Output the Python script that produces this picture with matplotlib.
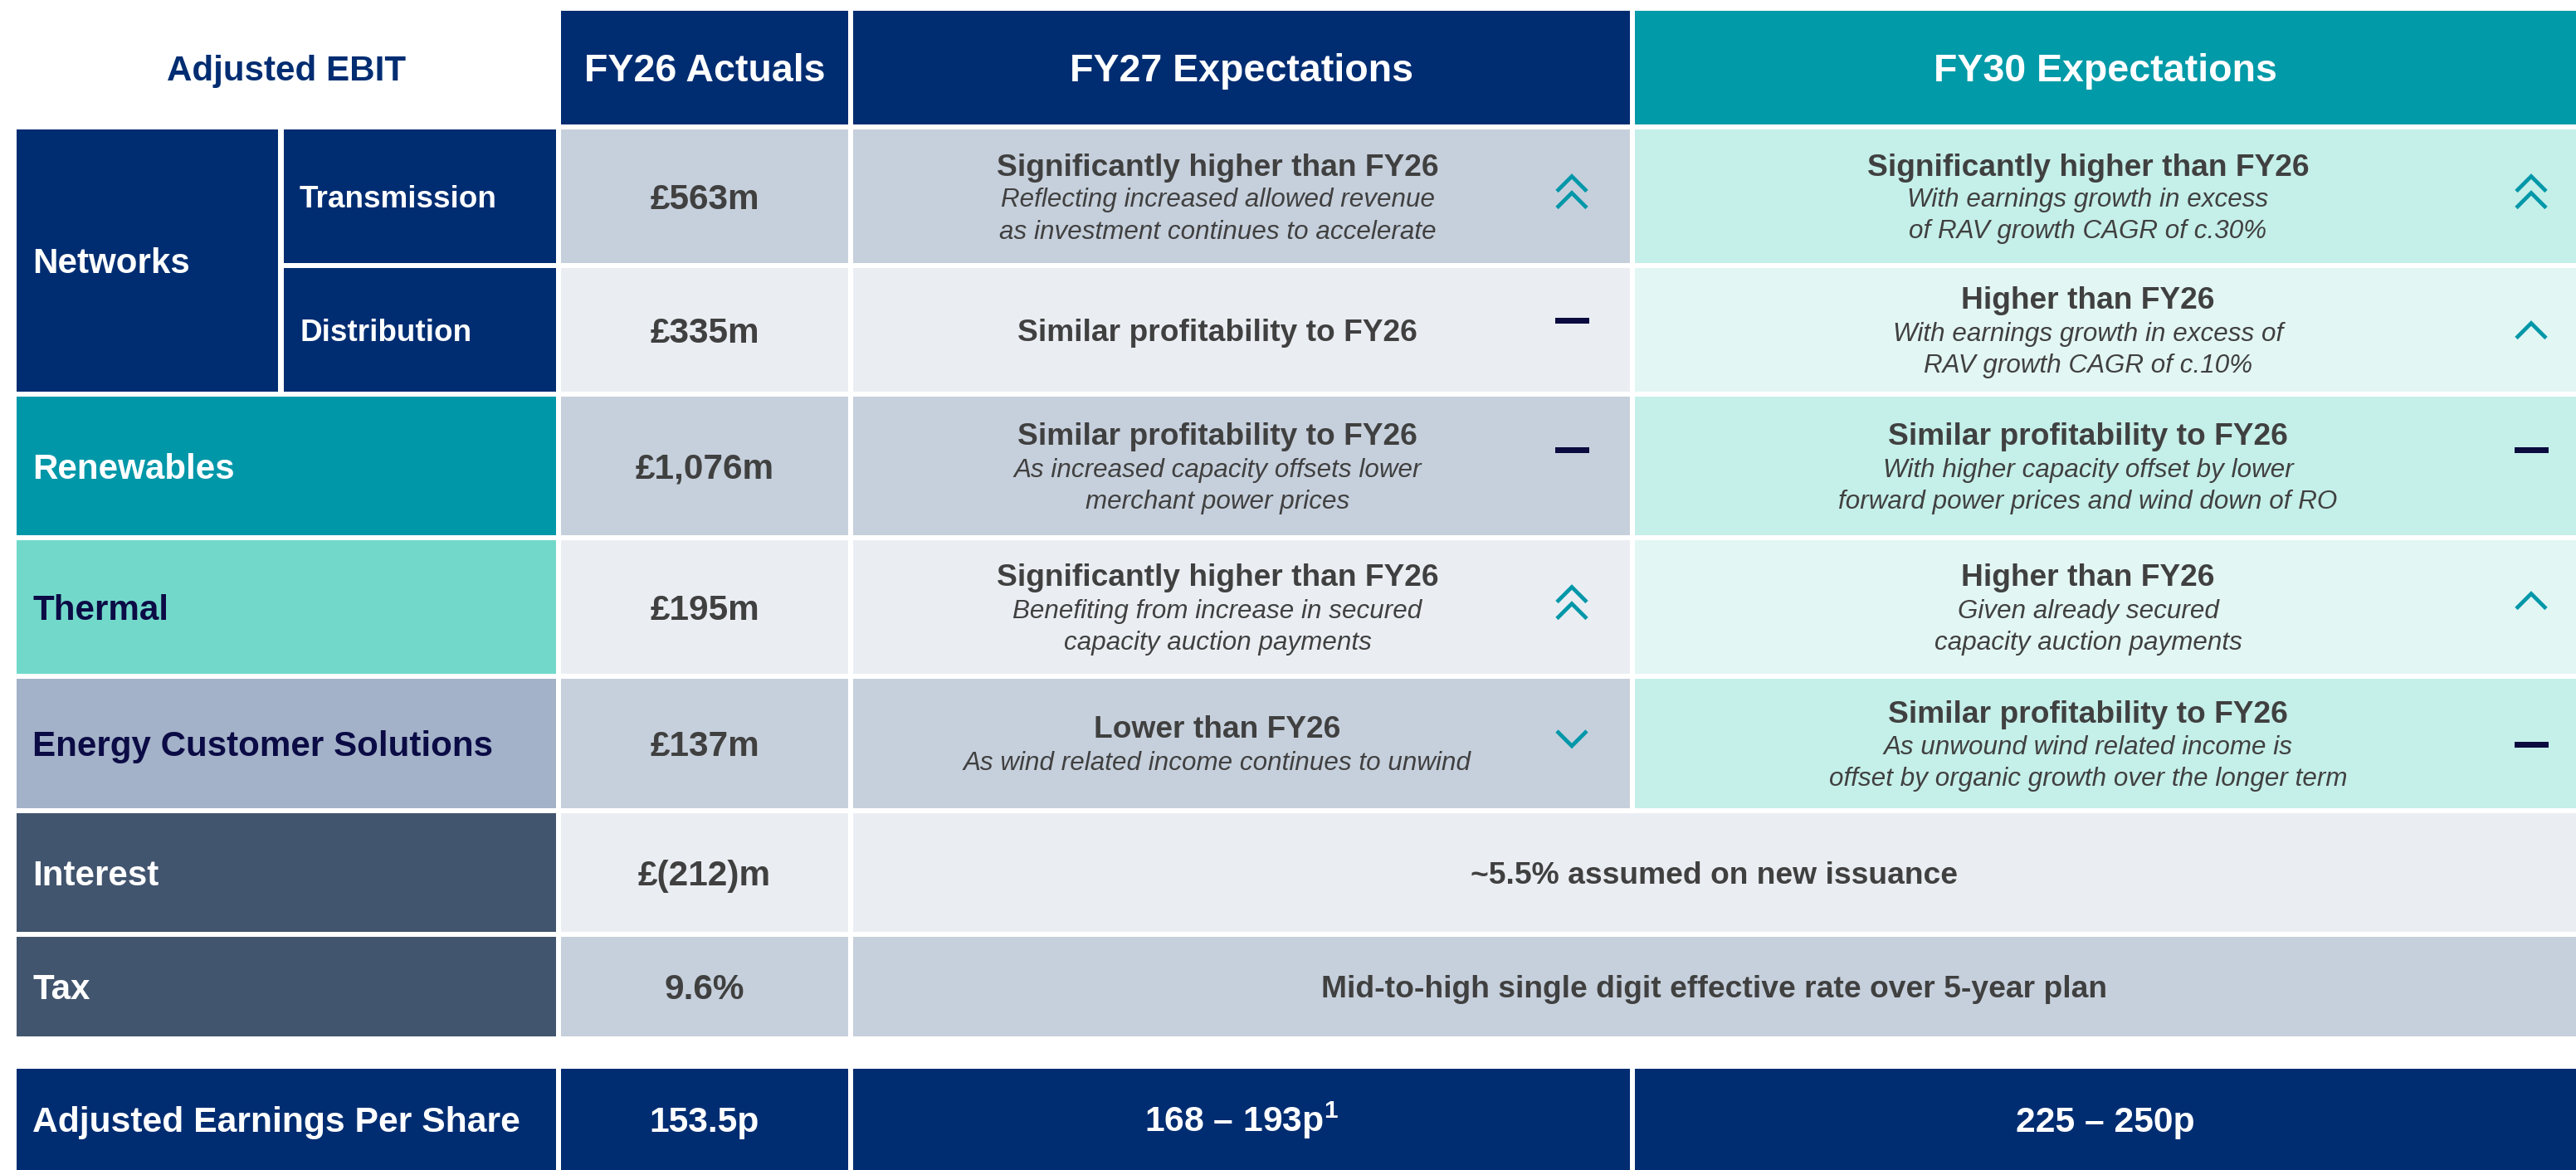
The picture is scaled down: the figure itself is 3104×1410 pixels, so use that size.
import matplotlib.pyplot as plt
from matplotlib.patches import Rectangle

plt.rcParams['font.family'] = ['Liberation Sans', 'DejaVu Sans']
plt.rcParams['mathtext.fontset'] = 'custom'
plt.rcParams['mathtext.rm'] = 'Liberation Sans:bold'
plt.rcParams['mathtext.it'] = 'Liberation Sans:bold'
plt.rcParams['mathtext.bf'] = 'Liberation Sans:bold'

# ---- table content ----
header_title = 'Adjusted EBIT'
col_heads = ['FY26 Actuals', 'FY27 Expectations', 'FY30 Expectations']

segments = ['Transmission', 'Distribution', 'Renewables', 'Thermal', 'Energy Customer Solutions']
group_label = 'Networks'
fy26_values = ['£563m', '£335m', '£1,076m', '£195m', '£137m']

fy27_head = ['Significantly higher than FY26', 'Similar profitability to FY26',
             'Similar profitability to FY26', 'Significantly higher than FY26', 'Lower than FY26']
fy27_sub = [['Reflecting increased allowed revenue', 'as investment continues to accelerate'],
            [],
            ['As increased capacity offsets lower', 'merchant power prices'],
            ['Benefiting from increase in secured', 'capacity auction payments'],
            ['As wind related income continues to unwind']]
fy27_arrow = ['up2', 'flat', 'flat', 'up2', 'down']

fy30_head = ['Significantly higher than FY26', 'Higher than FY26', 'Similar profitability to FY26',
             'Higher than FY26', 'Similar profitability to FY26']
fy30_sub = [['With earnings growth in excess', 'of RAV growth CAGR of c.30%'],
            ['With earnings growth in excess of', 'RAV growth CAGR of c.10%'],
            ['With higher capacity offset by lower', 'forward power prices and wind down of RO'],
            ['Given already secured', 'capacity auction payments'],
            ['As unwound wind related income is', 'offset by organic growth over the longer term']]
fy30_arrow = ['up2', 'up', 'flat', 'up', 'flat']

other_rows = ['Interest', 'Tax']
other_fy26 = ['£(212)m', '9.6%']
other_text = ['~5.5% assumed on new issuance', 'Mid-to-high single digit effective rate over 5-year plan']

eps_label = 'Adjusted Earnings Per Share'
eps_values = ['153.5p', '168 – 193p$^{1}$', '225 – 250p']

# ---- layout (pixels) ----
W, H = 3104, 1410
colA = (20, 335)
colB = (342, 670)
colC = (676, 1022)
colD = (1028, 1964)
colE = (1970, 3104)
head_y = (13, 150)
seg_y = [(156, 317), (323, 472), (478, 645), (651, 812), (818, 974)]
other_y = [(980, 1123), (1129, 1249)]
eps_y = (1288, 1410)
d_text_x, e_text_x = 1467, 2516
d_arrow_x, e_arrow_x = 1894, 3050
# vertical nudge of each arrow icon relative to its row centre
d_arrow_dy = [-5, -11, -19, -5, -6]
e_arrow_dy = [-5, 1, -19, -7, 1]

NAVY = '#002D72'
TEAL_HEAD = '#009AA8'
SEG_COL = [NAVY, NAVY, '#0097A9', '#72D9CA', '#A3B2C8']
SEG_TXT = ['white', 'white', 'white', '#0B0B45', '#0B0B45']
OTHER_COL = '#42556F'
GREY = ['#C6D0DC', '#EAEEF3']
MINT = ['#C5EFE9', '#E2F6F3']
TXT = '#404040'
ARROW = '#0097A9'
DASH = '#0B0B3F'

fig = plt.figure(figsize=(W / 100, H / 100), dpi=100)
ax = fig.add_axes([0, 0, 1, 1])
ax.set_xlim(0, W)
ax.set_ylim(H, 0)
ax.axis('off')


def box(x, y, color):
    ax.add_patch(Rectangle((x[0], y[0]), x[1] - x[0], y[1] - y[0], facecolor=color, edgecolor='none'))


def put(x, yc, s, size, color=TXT, ha='center', style='normal', weight='bold'):
    # place text so that cap height is centred on yc
    ax.text(x, yc + 0.5 * size, s, fontsize=size, color=color, ha=ha, va='baseline',
            fontweight=weight, fontstyle=style)


def chevron(cx, cy, up=True):
    w, h = 36, 18
    s = -1 if up else 1
    ax.plot([cx - w / 2, cx, cx + w / 2], [cy - s * h / 2, cy + s * h / 2, cy - s * h / 2],
            color=ARROW, lw=3.4, solid_joinstyle='miter', solid_capstyle='butt')


def arrow(kind, cx, cy):
    if kind == 'up2':
        chevron(cx, cy - 10, True)
        chevron(cx, cy + 10, True)
    elif kind == 'up':
        chevron(cx, cy, True)
    elif kind == 'down':
        chevron(cx, cy, False)
    else:
        ax.add_patch(Rectangle((cx - 20.5, cy - 3.5), 41, 7, facecolor=DASH, edgecolor='none'))


def body(x, yc, head, sub):
    if len(sub) == 2:
        ax.text(x, yc - 25, head, fontsize=26.7, fontweight='bold', color=TXT, ha='center', va='baseline')
        for k, line in enumerate(sub):
            ax.text(x, yc + 13 + 38 * k, line, fontsize=22.6, fontstyle='italic', color=TXT,
                    ha='center', va='baseline')
    elif len(sub) == 1:
        ax.text(x, yc - 7, head, fontsize=26.7, fontweight='bold', color=TXT, ha='center', va='baseline')
        ax.text(x, yc + 32, sub[0], fontsize=22.6, fontstyle='italic', color=TXT, ha='center', va='baseline')
    else:
        put(x, yc, head, 26.7)


# header row
put((colA[0] + colB[1]) / 2, sum(head_y) / 2, header_title, 30.3, color=NAVY)
for x, c, t in zip([colC, colD, colE], [NAVY, NAVY, TEAL_HEAD], col_heads):
    box(x, head_y, c)
    put(sum(x) / 2, sum(head_y) / 2, t, 33.5, color='white')

# segment rows
box(colA, (seg_y[0][0], seg_y[1][1]), NAVY)
put(39, (seg_y[0][0] + seg_y[1][1]) / 2, group_label, 30.3, color='white', ha='left')
for i, y in enumerate(seg_y):
    yc = sum(y) / 2
    if i < 2:
        box(colB, y, NAVY)
        put(361, yc, segments[i], 26.6, color='white', ha='left')
    else:
        box((colA[0], colB[1]), y, SEG_COL[i])
        put(39, yc, segments[i], 30.3, color=SEG_TXT[i], ha='left')
    box(colC, y, GREY[i % 2])
    put(sum(colC) / 2, yc, fy26_values[i], 30.5)
    box(colD, y, GREY[i % 2])
    body(d_text_x, yc, fy27_head[i], fy27_sub[i])
    arrow(fy27_arrow[i], d_arrow_x, yc + d_arrow_dy[i])
    box(colE, y, MINT[i % 2])
    body(e_text_x, yc, fy30_head[i], fy30_sub[i])
    arrow(fy30_arrow[i], e_arrow_x, yc + e_arrow_dy[i])

# interest / tax
for j, y in enumerate(other_y):
    yc = sum(y) / 2
    shade = GREY[(j + 1) % 2]
    box((colA[0], colB[1]), y, OTHER_COL)
    put(39, yc, other_rows[j], 30.3, color='white', ha='left')
    box(colC, y, shade)
    put(sum(colC) / 2, yc, other_fy26[j], 30.5)
    box((colD[0], colE[1]), y, shade)
    put((colD[0] + colE[1]) / 2, yc, other_text[j], 26.8)

# EPS row
yc = sum(eps_y) / 2
box((colA[0], colB[1]), eps_y, NAVY)
put(39, yc, eps_label, 30.7, color='white', ha='left')
for x, v in zip([colC, colD, colE], eps_values):
    box(x, eps_y, NAVY)
    put(sum(x) / 2, yc, v, 30.7, color='white')

fig.savefig('out.png', dpi=100)
